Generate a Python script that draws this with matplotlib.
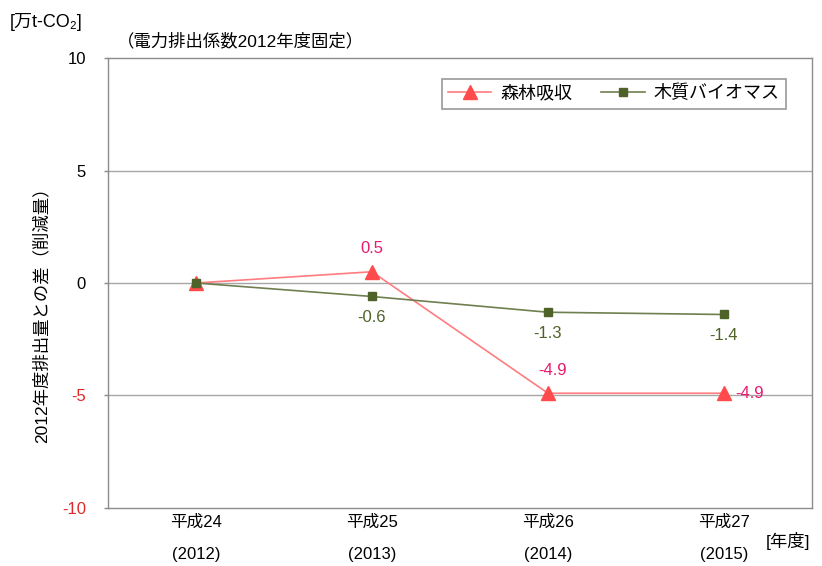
import numpy as np
import matplotlib
matplotlib.use('Agg')
from matplotlib import pyplot as plt

plt.rcParams['font.family'] = ['Liberation Sans', 'Noto Sans CJK JP', 'DejaVu Sans']
plt.rcParams['axes.unicode_minus'] = False

years = ['平成24\n(2012)', '平成25\n(2013)', '平成26\n(2014)', '平成27\n(2015)']
forest = [0.0, 0.5, -4.9, -4.9]
biomass = [0.0, -0.6, -1.3, -1.4]
forest_labels = ['', '0.5', '-4.9', '-4.9']
biomass_labels = ['', '-0.6', '-1.3', '-1.4']
yticks = [-10, -5, 0, 5, 10]

x = np.arange(len(years))

fig = plt.figure(figsize=(8.22, 5.66), dpi=100)
ax = fig.add_axes([0.1314, 0.1025, 0.8564, 0.795])

for yv in [-5, 0, 5]:
    ax.axhline(yv, color='#a6a6a6', lw=1.0, zorder=1)

ax.plot(x, forest, color='#ff7c80', lw=1.2, marker='^', ms=10,
        mfc='#ff4b4b', mec='#ff4b4b', label='森林吸収', zorder=3)
ax.plot(x, biomass, color='#6f7f4f', lw=1.2, marker='s', ms=6,
        mfc='#4f6228', mec='#4f6228', label='木質バイオマス', zorder=4)

# data labels
ax.annotate(forest_labels[1], (x[1], forest[1]), xytext=(0, 11), textcoords='offset points',
            ha='center', va='bottom', color='#e8196e', fontsize=12)
ax.annotate(forest_labels[2], (x[2], forest[2]), xytext=(3, 11), textcoords='offset points',
            ha='center', va='bottom', color='#e8196e', fontsize=12)
ax.annotate(forest_labels[3], (x[3], forest[3]), xytext=(8, 0), textcoords='offset points',
            ha='left', va='center', color='#e8196e', fontsize=12)
for i in range(1, 4):
    ax.annotate(biomass_labels[i], (x[i], biomass[i]), xytext=(0, -10), textcoords='offset points',
                ha='center', va='top', color='#4f6228', fontsize=12)

ax.set_xlim(-0.5, 3.5)
ax.set_ylim(-10, 10)
ax.set_yticks(yticks)
ax.set_xticks(x)
ax.set_xticklabels(years, fontsize=12, linespacing=2.4)
ax.tick_params(axis='x', length=0, pad=5)
ax.tick_params(axis='y', length=3, width=1, color='#8c8c8c', labelsize=12, pad=13)
for lab, v in zip(ax.get_yticklabels(), yticks):
    if v < 0:
        lab.set_color('#e02828')
for s in ax.spines.values():
    s.set_color('#8c8c8c')
    s.set_linewidth(1.0)

ax.set_ylabel('2012年度排出量との差（削減量）', fontsize=12.5)
ax.yaxis.set_label_coords(-0.083, 0.438)

fig.text(0.012, 0.962, '[万t-CO₂]', fontsize=13, ha='left', va='center')
fig.text(0.142, 0.927, '（電力排出係数2012年度固定）', fontsize=12.5, ha='left', va='center')
fig.text(0.932, 0.045, '[年度]', fontsize=12.5, ha='left', va='center')

leg = ax.legend(loc='upper right', ncol=2, fontsize=13, frameon=True, fancybox=False,
                edgecolor='#7f7f7f', bbox_to_anchor=(0.976, 0.974), borderpad=0.35,
                handlelength=2.4, columnspacing=1.6, handletextpad=0.5)
leg.get_frame().set_linewidth(1.2)

plt.savefig('out.png', dpi=100)
